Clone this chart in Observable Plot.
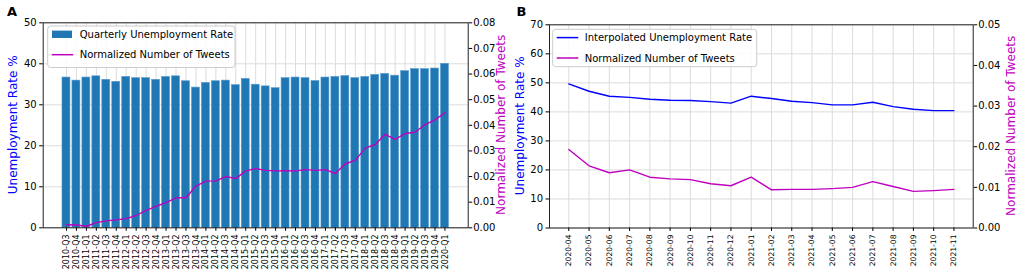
<!DOCTYPE html>
<html><head><meta charset="utf-8">
<script src="https://cdn.jsdelivr.net/npm/d3@7"></script>
<script src="https://cdn.jsdelivr.net/npm/@observablehq/plot@0.6"></script>
<style>
body{margin:0;background:#fff;}
#wrap{position:relative;width:1021px;height:273px;overflow:hidden;}
#wrap svg{position:absolute;top:0;}
</style></head><body><div id="wrap"></div>
<script>
const quarters = ["2010-Q3","2010-Q4","2011-Q1","2011-Q2","2011-Q3","2011-Q4","2012-Q1","2012-Q2","2012-Q3","2012-Q4","2013-Q1","2013-Q2","2013-Q3","2013-Q4","2014-Q1","2014-Q2","2014-Q3","2014-Q4","2015-Q1","2015-Q2","2015-Q3","2015-Q4","2016-Q1","2016-Q2","2016-Q3","2016-Q4","2017-Q1","2017-Q2","2017-Q3","2017-Q4","2018-Q1","2018-Q2","2018-Q3","2018-Q4","2019-Q1","2019-Q2","2019-Q3","2019-Q4","2020-Q1"];
const quarterlyRate = [36.65,35.9,36.65,36.95,36.1,35.6,36.8,36.5,36.5,36.1,36.8,36.95,35.75,34.2,35.35,35.75,35.9,34.8,36.3,34.9,34.5,34.05,36.5,36.65,36.5,35.8,36.65,36.8,37.0,36.5,36.8,37.3,37.55,37.1,38.2,38.7,38.7,38.85,40.0];
const tweetsA = [0.0012,0.0011,0.0006,0.0020,0.0027,0.0031,0.0036,0.0048,0.0068,0.0084,0.0098,0.0117,0.0117,0.0163,0.0182,0.0183,0.0200,0.0192,0.0222,0.0231,0.0224,0.0222,0.0223,0.0222,0.0227,0.0224,0.0227,0.0212,0.0250,0.0263,0.0311,0.0325,0.0365,0.0345,0.0368,0.0373,0.0403,0.0421,0.0449];
const months = ["2020-04","2020-05","2020-06","2020-07","2020-08","2020-09","2020-10","2020-11","2020-12","2021-01","2021-02","2021-03","2021-04","2021-05","2021-06","2021-07","2021-08","2021-09","2021-10","2021-11"];
const interpRate = [49.65,47.1,45.4,45.0,44.35,44.0,43.9,43.55,43.0,45.4,44.6,43.65,43.2,42.4,42.4,43.3,41.8,40.9,40.45,40.45];
const tweetsB = [0.0193,0.0153,0.0136,0.0143,0.0125,0.0121,0.0119,0.0109,0.0104,0.0125,0.0094,0.0095,0.0095,0.0097,0.0100,0.0114,0.0102,0.0090,0.0092,0.0095];
const ticksLeftA = [0,10,20,30,40,50];
const ticksRightA = [0,0.01,0.02,0.03,0.04,0.05,0.06,0.07,0.08];
const ticksLeftB = [0,10,20,30,40,50,60,70];
const ticksRightB = [0,0.01,0.02,0.03,0.04,0.05];

const FONT = "DejaVu Sans";
const BAR = "#1f77b4", MAG = "#bf00bf", BLUE = "#0000ff", GRID = "#dcdcdc";
const wrap = document.getElementById("wrap");
const tableA = quarters.map((q,i)=>({q, rate: quarterlyRate[i], tw: tweetsA[i]}));
const tableB = months.map((m,i)=>({m, rate: interpRate[i], tw: tweetsB[i]}));

function place(svg, left){ svg.style.left = left + "px"; wrap.appendChild(svg); return svg; }

// Panel A geometry
const A = {width:510, height:273, marginLeft:42.7, marginRight:42.3, marginTop:22.3, marginBottom:45.7};
const xA = {type:"band", domain: quarters, paddingInner:0.2, paddingOuter:1.935, align:0.5, round:false};
const styleBase = {fontFamily: FONT, fontSize:"10px", color:"#000", background:"transparent", overflow:"visible"};

const a1 = Plot.plot({
  ...A, style: {...styleBase, background:"white"},
  x: xA, y: {domain:[0,50]},
  marks: [
    Plot.gridY(ticksLeftA, {stroke: GRID, strokeOpacity:1, strokeWidth:1}),
    Plot.gridX(quarters, {stroke: GRID, strokeOpacity:1, strokeWidth:1}),
    Plot.barY(tableA, {x:"q", y:"rate", fill: BAR, stroke:"#5a9ccf", strokeWidth:0.6}),
    Plot.frame({stroke:"#222", strokeWidth:1}),
    Plot.axisY(ticksLeftA, {anchor:"left", label:null, tickSize:3.5, tickPadding:3, fontSize:10}),
    Plot.axisX(quarters, {anchor:"bottom", label:null, tickRotate:-90, tickSize:3.5, tickPadding:3, fontSize:8})
  ]
});
place(a1, 0);

const a2 = Plot.plot({
  ...A, style: styleBase,
  x: {...xA, axis:null}, y: {domain:[0,0.08]},
  marks: [
    Plot.lineY(tableA, {x:"q", y:"tw", stroke: MAG, strokeWidth:1.4}),
    Plot.axisY(ticksRightA, {anchor:"right", label:null, tickSize:3.5, tickPadding:1.5, fontSize:10, tickFormat: d3.format(".2f")})
  ]
});
place(a2, 0);

// Panel B geometry
const B = {width:511, height:273, marginLeft:39, marginRight:48.3, marginTop:24.3, marginBottom:45.5};
const xB = {type:"point", domain: months, padding:0.95, align:0.5, round:false};

const b1 = Plot.plot({
  ...B, style: {...styleBase, background:"white"},
  x: xB, y: {domain:[0,70]},
  marks: [
    Plot.gridY(ticksLeftB, {stroke: GRID, strokeOpacity:1, strokeWidth:1}),
    Plot.gridX(months, {stroke: GRID, strokeOpacity:1, strokeWidth:1}),
    Plot.lineY(tableB, {x:"m", y:"rate", stroke: BLUE, strokeWidth:1.4}),
    Plot.frame({stroke:"#222", strokeWidth:1}),
    Plot.axisY(ticksLeftB, {anchor:"left", label:null, tickSize:3.5, tickPadding:3, fontSize:10}),
    Plot.axisX(months, {anchor:"bottom", label:null, tickRotate:-90, tickSize:3.5, tickPadding:3, fontSize:7.6})
  ]
});
place(b1, 510);

const b2 = Plot.plot({
  ...B, style: styleBase,
  x: {...xB, axis:null}, y: {domain:[0,0.05]},
  marks: [
    Plot.lineY(tableB, {x:"m", y:"tw", stroke: MAG, strokeWidth:1.4}),
    Plot.axisY(ticksRightB, {anchor:"right", label:null, tickSize:3.5, tickPadding:1.5, fontSize:10, tickFormat: d3.format(".2f")})
  ]
});
place(b2, 510);

// Annotations: panel letters, axis titles, legends
function vlabel(svg, x, y, text, color){
  d3.select(svg).append("text")
    .attr("transform", `translate(${x},${y}) rotate(-90)`)
    .attr("text-anchor","middle").attr("dominant-baseline","central")
    .attr("fill", color).attr("font-size", 12).attr("font-family", FONT).text(text);
}
function letter(svg, x, y, t){
  d3.select(svg).append("text").attr("x",x).attr("y",y).attr("text-anchor","start")
    .attr("font-weight","bold").attr("font-size",13).attr("font-family", FONT).attr("fill","#000").text(t);
}
letter(a2, 7, 15.5, "A");
letter(b2, 6.5, 15.5, "B");
vlabel(a2, 13.3, 124.8, "Unemployment Rate %", BLUE);
vlabel(a2, 501, 124.8, "Normalized Number of Tweets", MAG);
vlabel(b2, 9.5, 125.8, "Unemployment Rate %", BLUE);
vlabel(b2, 501, 125.8, "Normalized Number of Tweets", MAG);

function legend(svg, x0, y0, w, h, rows){
  const g = d3.select(svg).append("g").attr("font-family", FONT).attr("font-size", 10).attr("text-anchor","start");
  g.append("rect").attr("x",x0).attr("y",y0).attr("width",w).attr("height",h).attr("rx",3)
    .attr("fill","white").attr("fill-opacity",0.85).attr("stroke","#cccccc").attr("stroke-width",1);
  rows.forEach((r,i)=>{
    const cy = y0 + 8.3 + i*20.4;
    if (r.kind === "patch") {
      g.append("rect").attr("x",x0+4.3).attr("y",cy-3.7).attr("width",20).attr("height",7.4).attr("fill",r.color);
    } else {
      g.append("line").attr("x1",x0+4).attr("x2",x0+25.6).attr("y1",cy).attr("y2",cy)
        .attr("stroke",r.color).attr("stroke-width",1.5);
    }
    g.append("text").attr("x",x0+32).attr("y",cy).attr("text-anchor","start").attr("dominant-baseline","central").attr("fill","#000").text(r.label);
  });
}
legend(a2, 47.7, 26, 187.3, 41.5, [
  {kind:"patch", color: BAR, label:"Quarterly Unemployment Rate"},
  {kind:"line", color: MAG, label:"Normalized Number of Tweets"}
]);
legend(b2, 42.7, 29.3, 204, 37.4, [
  {kind:"line", color: BLUE, label:"Interpolated Unemployment Rate"},
  {kind:"line", color: MAG, label:"Normalized Number of Tweets"}
]);
</script></body></html>
